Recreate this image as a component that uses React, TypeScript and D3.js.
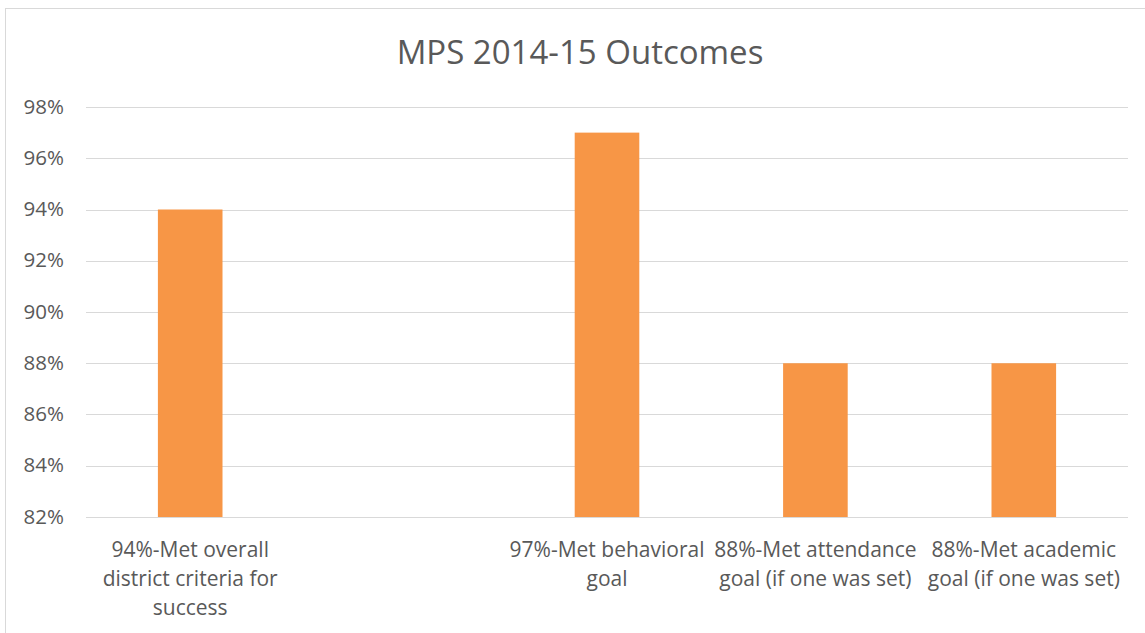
import React from "react";
import * as d3 from "d3";

const categories: string[][] = [
  ["94%-Met overall", "district criteria for", "success"],
  [],
  ["97%-Met behavioral", "goal"],
  ["88%-Met attendance", "goal (if one was set)"],
  ["88%-Met academic", "goal (if one was set)"],
];
const values: (number | null)[] = [0.94, null, 0.97, 0.88, 0.88];
const yTicks: number[] = [0.82, 0.84, 0.86, 0.88, 0.9, 0.92, 0.94, 0.96, 0.98];
const title = "MPS 2014-15 Outcomes";

const W = 1145;
const H = 633;
const FONT = "'Open Sans', 'Noto Sans', sans-serif";
const TEXT = "#595959";

export default function App() {
  const x = d3
    .scaleBand<number>()
    .domain(categories.map((_, i) => i))
    .range([86, 1128])
    .paddingInner(0.69)
    .paddingOuter(0.345);
  const y = d3.scaleLinear().domain([0.82, 0.98]).range([517, 107]);
  const fmt = d3.format(".0%");

  return (
    <svg
      width={W}
      height={H}
      style={{ position: "absolute", left: 0, top: 0, background: "#fff" }}
      fontFamily={FONT}
    >
      <rect x={5.5} y={8.5} width={W + 10} height={H + 10} fill="#fff" stroke="#d9d9d9" strokeWidth={1} />
      <text x={580} y={64} textAnchor="middle" fontSize={33} fill={TEXT}>
        {title}
      </text>
      {yTicks.map((t) => (
        <g key={t}>
          <line x1={86} x2={1128} y1={Math.round(y(t)) + 0.5} y2={Math.round(y(t)) + 0.5} stroke="#d9d9d9" strokeWidth={1} />
          <text x={64} y={y(t) + 6.5} textAnchor="end" fontSize={20.5} fill={TEXT}>
            {fmt(t)}
          </text>
        </g>
      ))}
      {values.map((v, i) =>
        v == null ? null : (
          <rect key={i} x={x(i)} y={y(v)} width={x.bandwidth()} height={y(0.82) - y(v)} fill="#F79646" />
        )
      )}
      {categories.map((lines, i) => (
        <text key={i} textAnchor="middle" fontSize={21} fill={TEXT}>
          {lines.map((l, j) => (
            <tspan key={j} x={(x(i) ?? 0) + x.bandwidth() / 2} y={557 + j * 28.8}>
              {l}
            </tspan>
          ))}
        </text>
      ))}
    </svg>
  );
}
